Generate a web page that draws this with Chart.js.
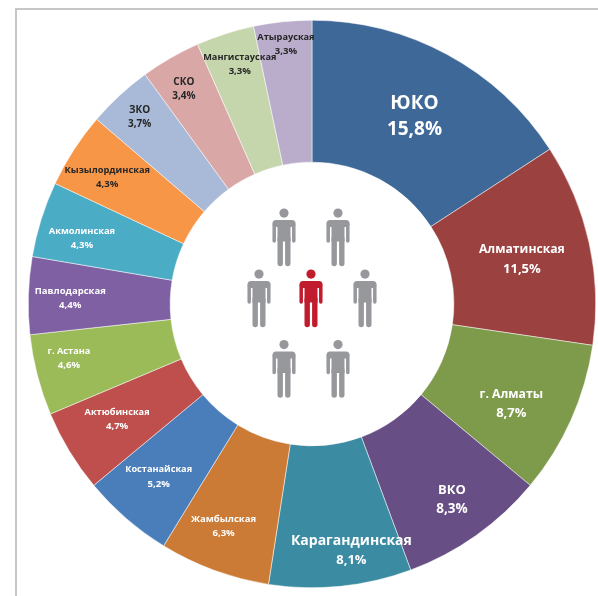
<!DOCTYPE html>
<html lang="ru">
<head>
    <meta charset="UTF-8">
    <title>Регионы</title>
    <script src="https://cdn.jsdelivr.net/npm/chart.js"></script>
    <style>
        html, body { margin: 0; padding: 0; background: #fff; overflow: hidden; }
        #wrap { position: relative; width: 598px; height: 596px; }
        #frame { position: absolute; left: 15px; top: 8px; right: 0; bottom: 0;
                 border-left: 2px solid #c6c6c6; border-top: 2px solid #c6c6c6; }
        canvas { position: absolute; left: 0; top: 0; filter: blur(0.35px); }
    </style>
</head>
<body>
    <div id="wrap">
        <div id="frame"></div>
        <canvas id="chart" width="598" height="596"></canvas>
    </div>
    <script>
        const regions = ['ЮКО', 'Алматинская', 'г. Алматы', 'ВКО', 'Карагандинская', 'Жамбылская', 'Костанайская', 'Актюбинская',
            'г. Астана', 'Павлодарская', 'Акмолинская', 'Кызылординская', 'ЗКО', 'СКО', 'Мангистауская', 'Атырауская'];
        const shares = [15.8, 11.5, 8.7, 8.3, 8.1, 6.3, 5.2, 4.7, 4.6, 4.4, 4.3, 4.3, 3.7, 3.4, 3.3, 3.3];
        const colors = ['#3e6897', '#9b4240', '#7e9a4b', '#674f85', '#3b8ba3', '#cb7b36', '#4a7ebb', '#be4f4c',
            '#9bbb59', '#7f60a2', '#4bacc6', '#f79646', '#a8bad8', '#d8a7a6', '#c6d6ac', '#b9adcb'];

        // label tweaks relative to the middle of each slice
        const nudges = [[1, 0], [2, 1], [5, 13], [17, 22], [18, 35], [-15, 23], [-14, 12], [-13, 5],
            [-37, 1], [-29, 1], [-27, -2], [-26, -11], [-28, -30], [-22, -30], [-7, -37], [-4, -48]];
        const nameSizes = [19, 12.2, 12.2, 13, 14, 9.5, 9.2, 9.2, 9.2, 9.5, 9.3, 9.3, 10, 10, 9.2, 9.2];
        const valueSizes = [19, 13, 13, 13.5, 13, 9.6, 9.6, 9.6, 9.6, 9.6, 9.6, 9.6, 10, 10, 9.6, 9.6];
        const lineGaps = [26, 19, 19, 19, 19, 14, 14, 14, 14, 14, 14, 14, 14, 14, 14, 14];
        const darkFrom = 11;

        // people in the hole, offsets from the centre
        const people = [[-28, -95.5], [26, -95.5], [-53, -34.5], [53, -34.5], [-28, 36], [26, 36]];

        function drawPerson(ctx, x, y, color) {
            ctx.fillStyle = color;
            ctx.strokeStyle = color;
            ctx.lineCap = 'round';
            ctx.beginPath();
            ctx.arc(x, y + 4.6, 4.6, 0, Math.PI * 2);
            ctx.fill();
            // shoulders and torso
            ctx.beginPath();
            ctx.roundRect(x - 11.5, y + 11.5, 23, 7, 5);
            ctx.fill();
            ctx.fillRect(x - 6.5, y + 13, 13, 20);
            // arms
            ctx.lineWidth = 3.5;
            ctx.beginPath();
            ctx.moveTo(x - 9.8, y + 16);
            ctx.lineTo(x - 9.8, y + 32.5);
            ctx.moveTo(x + 9.8, y + 16);
            ctx.lineTo(x + 9.8, y + 32.5);
            ctx.stroke();
            // legs
            ctx.lineWidth = 5.4;
            ctx.beginPath();
            ctx.moveTo(x - 3.8, y + 30);
            ctx.lineTo(x - 3.8, y + 55);
            ctx.moveTo(x + 3.8, y + 30);
            ctx.lineTo(x + 3.8, y + 55);
            ctx.stroke();
        }

        const overlay = {
            id: 'overlay',
            afterDatasetsDraw(chart) {
                const ctx = chart.ctx;
                const arcs = chart.getDatasetMeta(0).data;
                ctx.save();
                ctx.textAlign = 'center';
                ctx.textBaseline = 'middle';
                arcs.forEach((arc, i) => {
                    const c = arc.getCenterPoint();
                    const x = c.x + nudges[i][0];
                    const y = c.y + nudges[i][1];
                    ctx.fillStyle = i >= darkFrom ? '#262626' : '#ffffff';
                    ctx.font = 'bold ' + nameSizes[i] + 'px "Open Sans"';
                    ctx.fillText(regions[i], x, y - lineGaps[i] / 2);
                    ctx.font = 'bold ' + valueSizes[i] + 'px "Open Sans"';
                    ctx.fillText(shares[i].toFixed(1).replace('.', ',') + '%', x, y + lineGaps[i] / 2);
                });
                const cx = arcs[0].x;
                const cy = arcs[0].y;
                people.forEach(p => drawPerson(ctx, cx + p[0], cy + p[1], '#97989b'));
                drawPerson(ctx, cx - 1, cy - 34.5, '#c01c2e');
                ctx.restore();
            }
        };

        new Chart(document.getElementById('chart'), {
            type: 'doughnut',
            data: {
                labels: regions,
                datasets: [{
                    data: shares,
                    backgroundColor: colors,
                    borderColor: '#ffffff',
                    borderWidth: 0.5
                }]
            },
            options: {
                responsive: false,
                animation: false,
                cutout: '50%',
                layout: { padding: { left: 28, right: 2, top: 20, bottom: 8 } },
                plugins: { legend: { display: false }, tooltip: { enabled: false } }
            },
            plugins: [overlay]
        });
    </script>
</body>
</html>
